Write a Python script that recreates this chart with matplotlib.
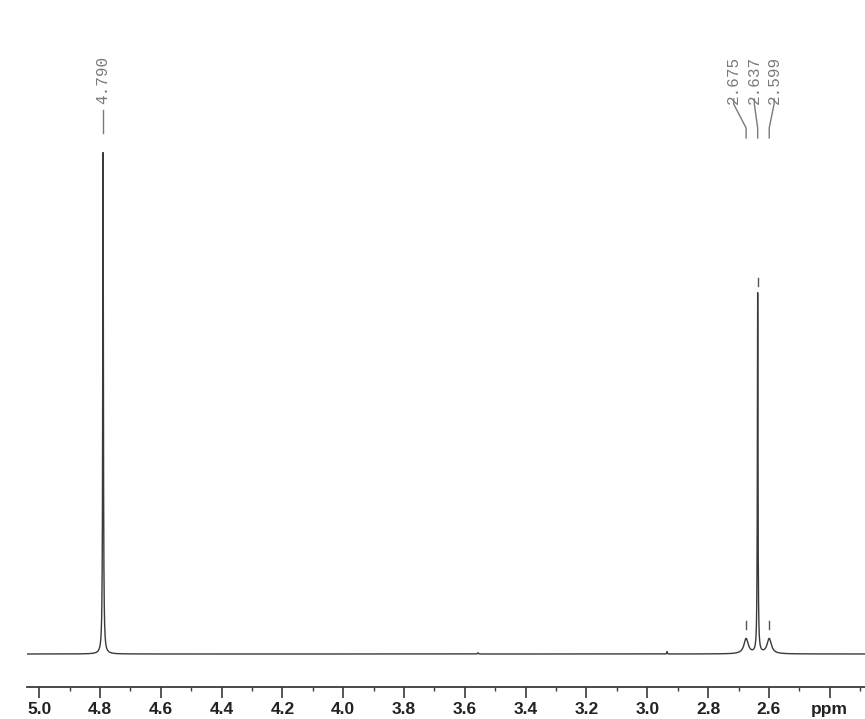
import numpy as np
import matplotlib
matplotlib.use("Agg")
import matplotlib.pyplot as plt
import matplotlib.transforms as mtransforms

# peaks (ppm, relative height, half width in ppm)
peak_ppm = [4.790, 2.675, 2.637, 2.599, 2.935, 3.557]
peak_height = [100.0, 3.0, 71.4, 3.0, 0.5, 0.25]
peak_hwhm = [0.0013, 0.0085, 0.0012, 0.0085, 0.0008, 0.0015]

# labelled shifts
label_ppm = [4.790, 2.675, 2.637, 2.599]
label_text = ["4.790", "2.675", "2.637", "2.599"]

tick_vals = [5.0, 4.8, 4.6, 4.4, 4.2, 4.0, 3.8, 3.6, 3.4, 3.2, 3.0, 2.8, 2.6, 2.4]
tick_labels = ["5.0", "4.8", "4.6", "4.4", "4.2", "4.0", "3.8", "3.6", "3.4",
               "3.2", "3.0", "2.8", "2.6", "ppm"]

W, H = 865, 719
left_px = 27
fig = plt.figure(figsize=(W / 100, H / 100), dpi=100)
ax = fig.add_axes([left_px / W, (H - 687) / H, 1 - left_px / W, 687 / H])

# spectrum = sum of lorentzians
x0 = 4.8 + (100 - left_px) / 304
x1 = 2.284
x = np.linspace(x0, x1, 14000)
y = np.zeros_like(x)
for p, h, w in zip(peak_ppm, peak_height, peak_hwhm):
    y += h * w**2 / ((x - p)**2 + w**2)

ax.plot(x, y, color="#3a3a3a", lw=1.0)
ax.set_xlim(x0, x1)
# baseline sits 33 px above axis, 4.790 peak is 504 px tall
ax.set_ylim(-33 / 5.04, 654 / 5.04)

for s in ["top", "left", "right"]:
    ax.spines[s].set_visible(False)
ax.spines["bottom"].set_color("#3a3a3a")
ax.spines["bottom"].set_linewidth(1.3)
ax.set_yticks([])
ax.set_xticks(tick_vals)
ax.set_xticklabels(tick_labels, fontsize=12.5, fontweight="bold",
                   family="Liberation Sans", color="#222222")
ax.set_xticks(np.arange(4.9, 2.3, -0.1), minor=True)
ax.tick_params(axis="x", which="major", direction="out", length=8, width=1.2,
               color="#3a3a3a", pad=3)
ax.tick_params(axis="x", which="minor", direction="out", length=3, width=1.0,
               color="#3a3a3a")

# peak labels, y in figure pixels from top
tr = mtransforms.blended_transform_factory(ax.transData, fig.transFigure)
def fy(px):
    return 1 - px / H

lab_color = "#7a7a7a"
# single label for 4.790
ax.text(4.790, fy(56), label_text[0], rotation=90, ha="center", va="top",
        family="Liberation Mono", fontsize=11.5, color=lab_color, transform=tr)
ax.plot([4.790, 4.790], [fy(110), fy(133)], color=lab_color, lw=1.0, transform=tr)

# group of three around 2.64
group_pos = [2.716, 2.648, 2.583]
for lp, txt, pk in zip(group_pos, label_text[1:], label_ppm[1:]):
    ax.text(lp, fy(56), txt, rotation=90, ha="center", va="top",
            family="Liberation Mono", fontsize=11.5, color=lab_color, transform=tr)
    ax.plot([lp, lp, pk, pk], [fy(99), fy(104), fy(128), fy(138)],
            color=lab_color, lw=1.0, transform=tr)

# peak-top markers
for p, h in zip(label_ppm[1:], [peak_height[1], peak_height[2], peak_height[3]]):
    top = h + (0.4 if h < 10 else 0)
    ax.plot([p, p], [top + 1.6, top + 3.2], color="#555555", lw=1.0)

fig.savefig("out.png", dpi=100)
